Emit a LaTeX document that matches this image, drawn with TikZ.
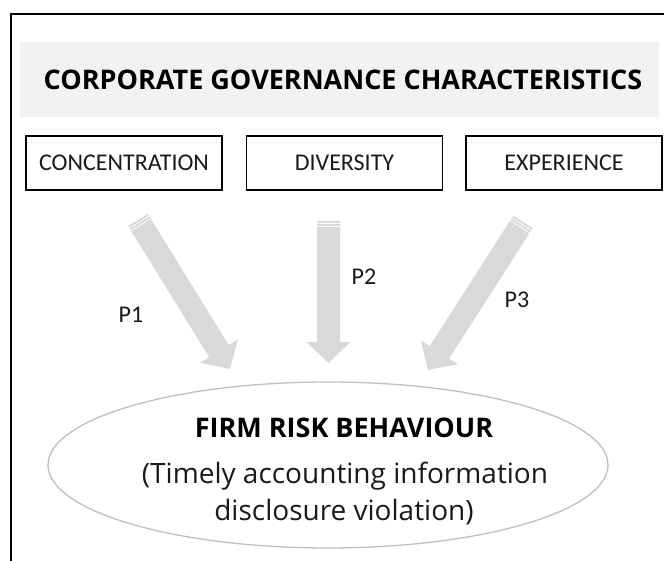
\documentclass[tikz,border=0pt]{standalone}
\usepackage{fontspec}
\setmainfont{Carlito}
\newfontfamily\osfont{Open Sans}
\usetikzlibrary{calc,shapes.geometric}
\definecolor{arrowgray}{HTML}{D9D9D9}
\definecolor{bandgray}{HTML}{F2F2F2}
\definecolor{ellgray}{HTML}{BFBFBF}
\definecolor{txt}{HTML}{1A1A1A}
\newcommand{\bigarr}[2]{%
  \coordinate (#1h) at ($(#2)!21pt!(#1)$);
  \fill[arrowgray] ($(#1)!11.5pt!90:(#2)$) -- ($(#1h)!11.5pt!90:(#2)$) -- ($(#1h)!22pt!90:(#2)$) -- (#2)
     -- ($(#1h)!22pt!-90:(#2)$) -- ($(#1h)!11.5pt!-90:(#2)$) -- ($(#1)!11.5pt!-90:(#2)$) -- cycle;
  \draw[white, line width=0.8pt] ($($(#1)!2.5pt!(#2)$)!11.5pt!90:(#2)$) -- ($($(#1)!2.5pt!(#2)$)!11.5pt!-90:(#2)$);
  \draw[white, line width=0.8pt] ($($(#1)!5.5pt!(#2)$)!11.5pt!90:(#2)$) -- ($($(#1)!5.5pt!(#2)$)!11.5pt!-90:(#2)$);
}
\tikzset{
  charbox/.style={draw=black, line width=1.5pt, minimum width=196pt, minimum height=54pt, inner sep=0pt,
    font=\fontsize{24}{28}\selectfont, text=txt},
  plabel/.style={font=\fontsize{24}{28}\selectfont, text=txt, inner sep=0pt},
  elltext/.style={font=\osfont\fontsize{28}{32}\selectfont, text=txt, inner sep=0pt},
  boldhead/.style={font=\osfont\bfseries\fontsize{#1}{30}\selectfont, inner sep=0pt}
}
\begin{document}
\begin{tikzpicture}[x=1pt,y=-1pt]
\useasboundingbox (0,0) rectangle (664,561);
\fill[white] (0,0) rectangle (664,561);
\draw[line width=1.5pt] (11,561) -- (11,14) -- (664,14);
\fill[bandgray] (20,42) rectangle (659,117);
\node[boldhead=27, anchor=base] (title) at (343,90) {CORPORATE GOVERNANCE CHARACTERISTICS};
\node[charbox] (conc) at (124,163) {CONCENTRATION};
\node[charbox] (div) at (344.5,163) {DIVERSITY};
\node[charbox] (exp) at (564,163) {EXPERIENCE};
\coordinate (a1) at (138,220); \coordinate (t1) at (230,369);
\coordinate (a2) at (328.5,221); \coordinate (t2) at (328.5,363);
\coordinate (a3) at (523,222); \coordinate (t3) at (428,370);
\bigarr{a1}{t1}
\bigarr{a2}{t2}
\bigarr{a3}{t3}
\node[plabel] (p1) at (131,315) {P1};
\node[plabel] (p2) at (364,277) {P2};
\node[plabel] (p3) at (517,300) {P3};
\node[draw=ellgray, line width=1.3pt, ellipse, minimum width=560pt, minimum height=166pt, inner sep=0pt] (risk) at (328,465) {};
\node[boldhead=27, anchor=base] (rt) at (344,437) {FIRM RISK BEHAVIOUR};
\node[elltext, anchor=base] (l1) at (345,483) {(Timely accounting information};
\node[elltext, anchor=base] (l2) at (344,520) {disclosure violation)};
\end{tikzpicture}
\end{document}
